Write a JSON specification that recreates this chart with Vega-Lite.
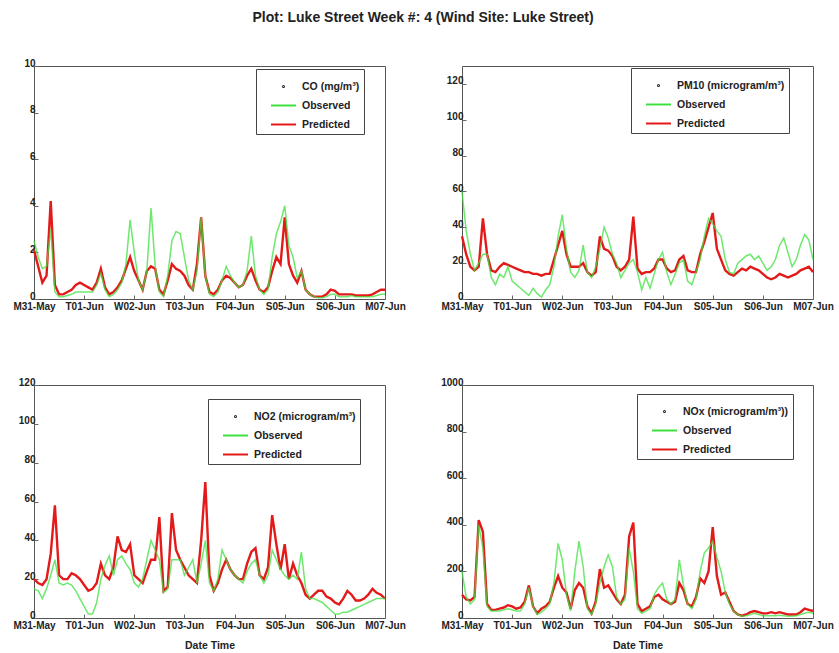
{
  "$schema": "https://vega.github.io/schema/vega-lite/v6.json",
  "background": "white",
  "padding": {"left": 12, "top": 10, "right": 10, "bottom": 5},
  "title": {"text": "Plot: Luke Street Week #: 4 (Wind Site: Luke Street)", "font": "Liberation Sans", "fontSize": 14, "fontWeight": "bold", "color": "#222", "anchor": "middle", "offset": 33},
  "config": {
    "view": {"stroke": "#555", "strokeWidth": 1},
    "axis": {"labelFont": "Liberation Sans", "labelFontSize": 10, "labelFontWeight": "bold", "labelColor": "#222", "grid": false, "domain": false, "tickColor": "#666", "tickSize": -4, "labelPadding": 3, "labelOverlap": false, "titleFont": "Liberation Sans", "titleFontSize": 10.5, "titleFontWeight": "bold", "titleColor": "#222", "titlePadding": 10},
    "axisX": {"labelPadding": 6},
    "axisY": {"labelOffset": -3},
    "legend": {"orient": "none", "title": null, "symbolType": "stroke", "symbolSize": 625, "symbolStrokeWidth": 2, "symbolOffset": 10, "strokeColor": "#444", "fillColor": "white", "padding": 4, "rowPadding": -8, "labelFont": "Liberation Sans", "labelFontSize": 10.5, "labelFontWeight": "bold", "labelColor": "#222", "labelOffset": 5}
  },
  "datasets": {
    "co": [
      {"h":0,"obs":2.5,"pred":2.1},{"h":2,"obs":1.8,"pred":1.4},{"h":4,"obs":1.3,"pred":0.7},{"h":6,"obs":1.4,"pred":1.0},{"h":8,"obs":3.0,"pred":4.2},{"h":10,"obs":0.3,"pred":0.6},{"h":12,"obs":0.1,"pred":0.2},{"h":14,"obs":0.1,"pred":0.2},{"h":16,"obs":0.15,"pred":0.3},{"h":18,"obs":0.2,"pred":0.4},{"h":20,"obs":0.3,"pred":0.6},{"h":22,"obs":0.3,"pred":0.7},{"h":24,"obs":0.3,"pred":0.6},{"h":26,"obs":0.3,"pred":0.5},{"h":28,"obs":0.3,"pred":0.4},{"h":30,"obs":0.6,"pred":0.7},{"h":32,"obs":1.1,"pred":1.3},{"h":34,"obs":0.4,"pred":0.5},{"h":36,"obs":0.1,"pred":0.2},{"h":38,"obs":0.2,"pred":0.3},{"h":40,"obs":0.4,"pred":0.5},{"h":42,"obs":0.7,"pred":0.8},{"h":44,"obs":1.5,"pred":1.3},{"h":46,"obs":3.4,"pred":1.8},{"h":48,"obs":2.0,"pred":1.2},{"h":50,"obs":0.8,"pred":0.8},{"h":52,"obs":0.4,"pred":0.4},{"h":54,"obs":1.2,"pred":1.2},{"h":56,"obs":3.9,"pred":1.4},{"h":58,"obs":1.4,"pred":1.3},{"h":60,"obs":0.3,"pred":0.4},{"h":62,"obs":0.1,"pred":0.2},{"h":64,"obs":1.0,"pred":0.8},{"h":66,"obs":2.5,"pred":1.5},{"h":68,"obs":2.9,"pred":1.3},{"h":70,"obs":2.8,"pred":1.2},{"h":72,"obs":1.8,"pred":1.0},{"h":74,"obs":0.8,"pred":0.6},{"h":76,"obs":0.4,"pred":0.4},{"h":78,"obs":1.2,"pred":1.5},{"h":80,"obs":3.5,"pred":3.5},{"h":82,"obs":1.0,"pred":1.0},{"h":84,"obs":0.2,"pred":0.3},{"h":86,"obs":0.1,"pred":0.2},{"h":88,"obs":0.3,"pred":0.4},{"h":90,"obs":0.8,"pred":0.8},{"h":92,"obs":1.4,"pred":1.0},{"h":94,"obs":1.0,"pred":0.9},{"h":96,"obs":0.7,"pred":0.7},{"h":98,"obs":0.5,"pred":0.5},{"h":100,"obs":0.6,"pred":0.6},{"h":102,"obs":1.2,"pred":1.0},{"h":104,"obs":2.7,"pred":1.3},{"h":106,"obs":1.0,"pred":0.8},{"h":108,"obs":0.4,"pred":0.4},{"h":110,"obs":0.2,"pred":0.3},{"h":112,"obs":0.4,"pred":0.5},{"h":114,"obs":1.8,"pred":1.2},{"h":116,"obs":2.8,"pred":1.8},{"h":118,"obs":3.3,"pred":1.5},{"h":120,"obs":4.0,"pred":3.5},{"h":122,"obs":2.3,"pred":1.5},{"h":124,"obs":1.8,"pred":1.0},{"h":126,"obs":0.9,"pred":0.7},{"h":128,"obs":1.2,"pred":1.2},{"h":130,"obs":0.4,"pred":0.4},{"h":132,"obs":0.2,"pred":0.2},{"h":134,"obs":0.1,"pred":0.1},{"h":136,"obs":0.05,"pred":0.1},{"h":138,"obs":0.05,"pred":0.1},{"h":140,"obs":0.1,"pred":0.2},{"h":142,"obs":0.2,"pred":0.4},{"h":144,"obs":0.2,"pred":0.35},{"h":146,"obs":0.1,"pred":0.2},{"h":148,"obs":0.1,"pred":0.2},{"h":150,"obs":0.1,"pred":0.2},{"h":152,"obs":0.15,"pred":0.2},{"h":154,"obs":0.1,"pred":0.15},{"h":156,"obs":0.1,"pred":0.15},{"h":158,"obs":0.1,"pred":0.15},{"h":160,"obs":0.1,"pred":0.15},{"h":162,"obs":0.1,"pred":0.2},{"h":164,"obs":0.15,"pred":0.3},{"h":166,"obs":0.2,"pred":0.4},{"h":168,"obs":0.2,"pred":0.4}
    ],
    "pm10": [
      {"h":0,"obs":60,"pred":35},{"h":2,"obs":38,"pred":25},{"h":4,"obs":25,"pred":18},{"h":6,"obs":16,"pred":16},{"h":8,"obs":20,"pred":18},{"h":10,"obs":25,"pred":45},{"h":12,"obs":25,"pred":25},{"h":14,"obs":12,"pred":16},{"h":16,"obs":8,"pred":15},{"h":18,"obs":14,"pred":18},{"h":20,"obs":12,"pred":20},{"h":22,"obs":18,"pred":19},{"h":24,"obs":10,"pred":18},{"h":26,"obs":8,"pred":17},{"h":28,"obs":6,"pred":16},{"h":30,"obs":4,"pred":15},{"h":32,"obs":2,"pred":15},{"h":34,"obs":6,"pred":14},{"h":36,"obs":3,"pred":14},{"h":38,"obs":1,"pred":13},{"h":40,"obs":5,"pred":14},{"h":42,"obs":8,"pred":14},{"h":44,"obs":18,"pred":22},{"h":46,"obs":35,"pred":30},{"h":48,"obs":47,"pred":38},{"h":50,"obs":28,"pred":25},{"h":52,"obs":15,"pred":18},{"h":54,"obs":12,"pred":18},{"h":56,"obs":16,"pred":18},{"h":58,"obs":30,"pred":20},{"h":60,"obs":15,"pred":15},{"h":62,"obs":12,"pred":13},{"h":64,"obs":18,"pred":15},{"h":66,"obs":28,"pred":35},{"h":68,"obs":40,"pred":28},{"h":70,"obs":34,"pred":27},{"h":72,"obs":25,"pred":24},{"h":74,"obs":20,"pred":18},{"h":76,"obs":12,"pred":16},{"h":78,"obs":16,"pred":18},{"h":80,"obs":20,"pred":22},{"h":82,"obs":22,"pred":46},{"h":84,"obs":15,"pred":17},{"h":86,"obs":5,"pred":14},{"h":88,"obs":12,"pred":15},{"h":90,"obs":6,"pred":15},{"h":92,"obs":14,"pred":17},{"h":94,"obs":22,"pred":22},{"h":96,"obs":26,"pred":22},{"h":98,"obs":15,"pred":17},{"h":100,"obs":8,"pred":15},{"h":102,"obs":14,"pred":16},{"h":104,"obs":20,"pred":22},{"h":106,"obs":22,"pred":24},{"h":108,"obs":10,"pred":16},{"h":110,"obs":8,"pred":15},{"h":112,"obs":15,"pred":15},{"h":114,"obs":22,"pred":25},{"h":116,"obs":35,"pred":32},{"h":118,"obs":45,"pred":40},{"h":120,"obs":42,"pred":48},{"h":122,"obs":38,"pred":28},{"h":124,"obs":35,"pred":22},{"h":126,"obs":22,"pred":16},{"h":128,"obs":15,"pred":14},{"h":130,"obs":14,"pred":13},{"h":132,"obs":20,"pred":15},{"h":134,"obs":22,"pred":17},{"h":136,"obs":24,"pred":16},{"h":138,"obs":25,"pred":18},{"h":140,"obs":22,"pred":17},{"h":142,"obs":24,"pred":16},{"h":144,"obs":20,"pred":14},{"h":146,"obs":16,"pred":12},{"h":148,"obs":18,"pred":11},{"h":150,"obs":22,"pred":12},{"h":152,"obs":30,"pred":14},{"h":154,"obs":34,"pred":13},{"h":156,"obs":26,"pred":12},{"h":158,"obs":18,"pred":13},{"h":160,"obs":22,"pred":14},{"h":162,"obs":30,"pred":16},{"h":164,"obs":36,"pred":17},{"h":166,"obs":33,"pred":18},{"h":168,"obs":22,"pred":15}
    ],
    "no2": [
      {"h":0,"obs":15,"pred":20},{"h":2,"obs":14,"pred":18},{"h":4,"obs":10,"pred":17},{"h":6,"obs":15,"pred":20},{"h":8,"obs":22,"pred":33},{"h":10,"obs":30,"pred":58},{"h":12,"obs":18,"pred":22},{"h":14,"obs":17,"pred":20},{"h":16,"obs":18,"pred":20},{"h":18,"obs":17,"pred":23},{"h":20,"obs":14,"pred":22},{"h":22,"obs":10,"pred":20},{"h":24,"obs":6,"pred":17},{"h":26,"obs":2,"pred":14},{"h":28,"obs":2,"pred":15},{"h":30,"obs":8,"pred":18},{"h":32,"obs":20,"pred":28},{"h":34,"obs":27,"pred":22},{"h":36,"obs":32,"pred":20},{"h":38,"obs":22,"pred":26},{"h":40,"obs":30,"pred":42},{"h":42,"obs":32,"pred":35},{"h":44,"obs":28,"pred":34},{"h":46,"obs":25,"pred":38},{"h":48,"obs":18,"pred":22},{"h":50,"obs":16,"pred":20},{"h":52,"obs":20,"pred":18},{"h":54,"obs":30,"pred":24},{"h":56,"obs":40,"pred":30},{"h":58,"obs":35,"pred":30},{"h":60,"obs":30,"pred":52},{"h":62,"obs":13,"pred":14},{"h":64,"obs":15,"pred":16},{"h":66,"obs":30,"pred":54},{"h":68,"obs":30,"pred":35},{"h":70,"obs":30,"pred":30},{"h":72,"obs":22,"pred":26},{"h":74,"obs":26,"pred":22},{"h":76,"obs":30,"pred":20},{"h":78,"obs":18,"pred":18},{"h":80,"obs":28,"pred":40},{"h":82,"obs":40,"pred":70},{"h":84,"obs":18,"pred":22},{"h":86,"obs":14,"pred":14},{"h":88,"obs":20,"pred":18},{"h":90,"obs":35,"pred":25},{"h":92,"obs":30,"pred":30},{"h":94,"obs":25,"pred":25},{"h":96,"obs":22,"pred":22},{"h":98,"obs":20,"pred":20},{"h":100,"obs":18,"pred":20},{"h":102,"obs":24,"pred":28},{"h":104,"obs":28,"pred":34},{"h":106,"obs":30,"pred":36},{"h":108,"obs":22,"pred":22},{"h":110,"obs":18,"pred":20},{"h":112,"obs":22,"pred":26},{"h":114,"obs":35,"pred":53},{"h":116,"obs":30,"pred":38},{"h":118,"obs":25,"pred":25},{"h":120,"obs":22,"pred":38},{"h":122,"obs":20,"pred":20},{"h":124,"obs":22,"pred":28},{"h":126,"obs":20,"pred":22},{"h":128,"obs":34,"pred":18},{"h":130,"obs":15,"pred":12},{"h":132,"obs":10,"pred":10},{"h":134,"obs":10,"pred":12},{"h":136,"obs":9,"pred":14},{"h":138,"obs":8,"pred":14},{"h":140,"obs":6,"pred":11},{"h":142,"obs":4,"pred":10},{"h":144,"obs":2,"pred":8},{"h":146,"obs":2,"pred":7},{"h":148,"obs":3,"pred":10},{"h":150,"obs":3,"pred":14},{"h":152,"obs":4,"pred":12},{"h":154,"obs":5,"pred":9},{"h":156,"obs":6,"pred":9},{"h":158,"obs":7,"pred":10},{"h":160,"obs":8,"pred":12},{"h":162,"obs":9,"pred":15},{"h":164,"obs":10,"pred":13},{"h":166,"obs":10,"pred":12},{"h":168,"obs":10,"pred":10}
    ],
    "nox": [
      {"h":0,"obs":200,"pred":100},{"h":2,"obs":90,"pred":80},{"h":4,"obs":60,"pred":75},{"h":6,"obs":80,"pred":90},{"h":8,"obs":400,"pred":420},{"h":10,"obs":300,"pred":370},{"h":12,"obs":50,"pred":60},{"h":14,"obs":30,"pred":35},{"h":16,"obs":30,"pred":35},{"h":18,"obs":30,"pred":40},{"h":20,"obs":35,"pred":45},{"h":22,"obs":40,"pred":55},{"h":24,"obs":35,"pred":50},{"h":26,"obs":30,"pred":40},{"h":28,"obs":30,"pred":45},{"h":30,"obs":60,"pred":70},{"h":32,"obs":130,"pred":140},{"h":34,"obs":50,"pred":50},{"h":36,"obs":15,"pred":20},{"h":38,"obs":25,"pred":40},{"h":40,"obs":40,"pred":50},{"h":42,"obs":60,"pred":70},{"h":44,"obs":150,"pred":130},{"h":46,"obs":320,"pred":180},{"h":48,"obs":250,"pred":130},{"h":50,"obs":100,"pred":110},{"h":52,"obs":30,"pred":40},{"h":54,"obs":200,"pred":120},{"h":56,"obs":330,"pred":150},{"h":58,"obs":220,"pred":130},{"h":60,"obs":40,"pred":50},{"h":62,"obs":15,"pred":20},{"h":64,"obs":60,"pred":70},{"h":66,"obs":150,"pred":210},{"h":68,"obs":220,"pred":130},{"h":70,"obs":270,"pred":140},{"h":72,"obs":220,"pred":110},{"h":74,"obs":90,"pred":80},{"h":76,"obs":60,"pred":60},{"h":78,"obs":80,"pred":100},{"h":80,"obs":300,"pred":350},{"h":82,"obs":200,"pred":410},{"h":84,"obs":40,"pred":60},{"h":86,"obs":20,"pred":30},{"h":88,"obs":30,"pred":40},{"h":90,"obs":40,"pred":50},{"h":92,"obs":100,"pred":90},{"h":94,"obs":130,"pred":100},{"h":96,"obs":150,"pred":80},{"h":98,"obs":80,"pred":70},{"h":100,"obs":60,"pred":60},{"h":102,"obs":80,"pred":70},{"h":104,"obs":250,"pred":150},{"h":106,"obs":140,"pred":120},{"h":108,"obs":60,"pred":60},{"h":110,"obs":40,"pred":50},{"h":112,"obs":80,"pred":90},{"h":114,"obs":200,"pred":170},{"h":116,"obs":280,"pred":150},{"h":118,"obs":300,"pred":200},{"h":120,"obs":330,"pred":390},{"h":122,"obs":260,"pred":180},{"h":124,"obs":200,"pred":100},{"h":126,"obs":110,"pred":110},{"h":128,"obs":60,"pred":70},{"h":130,"obs":30,"pred":30},{"h":132,"obs":15,"pred":15},{"h":134,"obs":8,"pred":10},{"h":136,"obs":10,"pred":15},{"h":138,"obs":15,"pred":25},{"h":140,"obs":20,"pred":30},{"h":142,"obs":15,"pred":25},{"h":144,"obs":10,"pred":20},{"h":146,"obs":10,"pred":20},{"h":148,"obs":10,"pred":25},{"h":150,"obs":10,"pred":20},{"h":152,"obs":12,"pred":25},{"h":154,"obs":10,"pred":20},{"h":156,"obs":8,"pred":15},{"h":158,"obs":8,"pred":15},{"h":160,"obs":10,"pred":15},{"h":162,"obs":15,"pred":25},{"h":164,"obs":20,"pred":40},{"h":166,"obs":25,"pred":35},{"h":168,"obs":20,"pred":30}
    ]
  },
  "columns": 2,
  "bounds": "flush",
  "spacing": {"row": 86, "column": 77},
  "concat": [
    {
      "width": 351, "height": 233,
      "data": {"name": "co"},
      "encoding": {"x": {"field": "h", "type": "quantitative", "scale": {"domain": [0, 168], "nice": false}, "axis": {"title": null, "values": [0, 24, 48, 72, 96, 120, 144, 168], "labelFlush": false, "labelExpr": "['M31-May','T01-Jun','W02-Jun','T03-Jun','F04-Jun','S05-Jun','S06-Jun','M07-Jun'][round(datum.value/24)]"}}},
      "layer": [
        {"mark": {"type": "line", "strokeWidth": 2.4}, "encoding": {"y": {"field": "pred", "type": "quantitative", "scale": {"domain": [0, 10], "nice": false}, "axis": {"title": null, "values": [0, 2, 4, 6, 8, 10], "format": "d"}}, "color": {"datum": "Predicted", "type": "nominal", "scale": {"domain": ["CO (mg/m³)", "Observed", "Predicted"], "range": ["#222222", "#3ee03e", "#e41a1a"]}, "legend": {"legendX": 222, "legendY": 3, "encode": {"symbols": {"update": {"shape": {"signal": "datum.value === 'Observed' || datum.value === 'Predicted' ? 'stroke' : 'M-0.04,0A0.04,0.04 0 1,0 0.04,0A0.04,0.04 0 1,0 -0.04,0Z'"}}}}}}}},
        {"mark": {"type": "line", "strokeWidth": 1.5, "opacity": 0.75}, "encoding": {"y": {"field": "obs", "type": "quantitative", "scale": {"domain": [0, 10], "nice": false}, "axis": {"title": null, "values": [0, 2, 4, 6, 8, 10], "format": "d"}}, "color": {"datum": "Observed", "type": "nominal"}}}
      ]
    },
    {
      "width": 351, "height": 233,
      "data": {"name": "pm10"},
      "encoding": {"x": {"field": "h", "type": "quantitative", "scale": {"domain": [0, 168], "nice": false}, "axis": {"title": null, "values": [0, 24, 48, 72, 96, 120, 144, 168], "labelFlush": false, "labelExpr": "['M31-May','T01-Jun','W02-Jun','T03-Jun','F04-Jun','S05-Jun','S06-Jun','M07-Jun'][round(datum.value/24)]"}}},
      "layer": [
        {"mark": {"type": "line", "strokeWidth": 2.4}, "encoding": {"y": {"field": "pred", "type": "quantitative", "scale": {"domain": [0, 130], "nice": false}, "axis": {"title": null, "values": [0, 20, 40, 60, 80, 100, 120], "format": "d"}}, "color": {"datum": "Predicted", "type": "nominal", "scale": {"domain": ["PM10 (microgram/m³)", "Observed", "Predicted"], "range": ["#222222", "#3ee03e", "#e41a1a"]}, "legend": {"legendX": 169, "legendY": 2, "encode": {"symbols": {"update": {"shape": {"signal": "datum.value === 'Observed' || datum.value === 'Predicted' ? 'stroke' : 'M-0.04,0A0.04,0.04 0 1,0 0.04,0A0.04,0.04 0 1,0 -0.04,0Z'"}}}}}}}},
        {"mark": {"type": "line", "strokeWidth": 1.5, "opacity": 0.75}, "encoding": {"y": {"field": "obs", "type": "quantitative", "scale": {"domain": [0, 130], "nice": false}, "axis": {"title": null, "values": [0, 20, 40, 60, 80, 100, 120], "format": "d"}}, "color": {"datum": "Observed", "type": "nominal"}}}
      ]
    },
    {
      "width": 351, "height": 233,
      "data": {"name": "no2"},
      "encoding": {"x": {"field": "h", "type": "quantitative", "scale": {"domain": [0, 168], "nice": false}, "axis": {"title": "Date Time", "values": [0, 24, 48, 72, 96, 120, 144, 168], "labelFlush": false, "labelExpr": "['M31-May','T01-Jun','W02-Jun','T03-Jun','F04-Jun','S05-Jun','S06-Jun','M07-Jun'][round(datum.value/24)]"}}},
      "layer": [
        {"mark": {"type": "line", "strokeWidth": 2.4}, "encoding": {"y": {"field": "pred", "type": "quantitative", "scale": {"domain": [0, 120], "nice": false}, "axis": {"title": null, "values": [0, 20, 40, 60, 80, 100, 120], "format": "d"}}, "color": {"datum": "Predicted", "type": "nominal", "scale": {"domain": ["NO2 (microgram/m³)", "Observed", "Predicted"], "range": ["#222222", "#3ee03e", "#e41a1a"]}, "legend": {"legendX": 174, "legendY": 14, "encode": {"symbols": {"update": {"shape": {"signal": "datum.value === 'Observed' || datum.value === 'Predicted' ? 'stroke' : 'M-0.04,0A0.04,0.04 0 1,0 0.04,0A0.04,0.04 0 1,0 -0.04,0Z'"}}}}}}}},
        {"mark": {"type": "line", "strokeWidth": 1.5, "opacity": 0.75}, "encoding": {"y": {"field": "obs", "type": "quantitative", "scale": {"domain": [0, 120], "nice": false}, "axis": {"title": null, "values": [0, 20, 40, 60, 80, 100, 120], "format": "d"}}, "color": {"datum": "Observed", "type": "nominal"}}}
      ]
    },
    {
      "width": 351, "height": 233,
      "data": {"name": "nox"},
      "encoding": {"x": {"field": "h", "type": "quantitative", "scale": {"domain": [0, 168], "nice": false}, "axis": {"title": "Date Time", "values": [0, 24, 48, 72, 96, 120, 144, 168], "labelFlush": false, "labelExpr": "['M31-May','T01-Jun','W02-Jun','T03-Jun','F04-Jun','S05-Jun','S06-Jun','M07-Jun'][round(datum.value/24)]"}}},
      "layer": [
        {"mark": {"type": "line", "strokeWidth": 2.4}, "encoding": {"y": {"field": "pred", "type": "quantitative", "scale": {"domain": [0, 1000], "nice": false}, "axis": {"title": null, "values": [0, 200, 400, 600, 800, 1000], "format": "d"}}, "color": {"datum": "Predicted", "type": "nominal", "scale": {"domain": ["NOx (microgram/m³))", "Observed", "Predicted"], "range": ["#222222", "#3ee03e", "#e41a1a"]}, "legend": {"legendX": 175, "legendY": 9, "encode": {"symbols": {"update": {"shape": {"signal": "datum.value === 'Observed' || datum.value === 'Predicted' ? 'stroke' : 'M-0.04,0A0.04,0.04 0 1,0 0.04,0A0.04,0.04 0 1,0 -0.04,0Z'"}}}}}}}},
        {"mark": {"type": "line", "strokeWidth": 1.5, "opacity": 0.75}, "encoding": {"y": {"field": "obs", "type": "quantitative", "scale": {"domain": [0, 1000], "nice": false}, "axis": {"title": null, "values": [0, 200, 400, 600, 800, 1000], "format": "d"}}, "color": {"datum": "Observed", "type": "nominal"}}}
      ]
    }
  ],
  "resolve": {"scale": {"color": "independent", "x": "independent", "y": "independent"}, "legend": {"color": "independent"}}
}
